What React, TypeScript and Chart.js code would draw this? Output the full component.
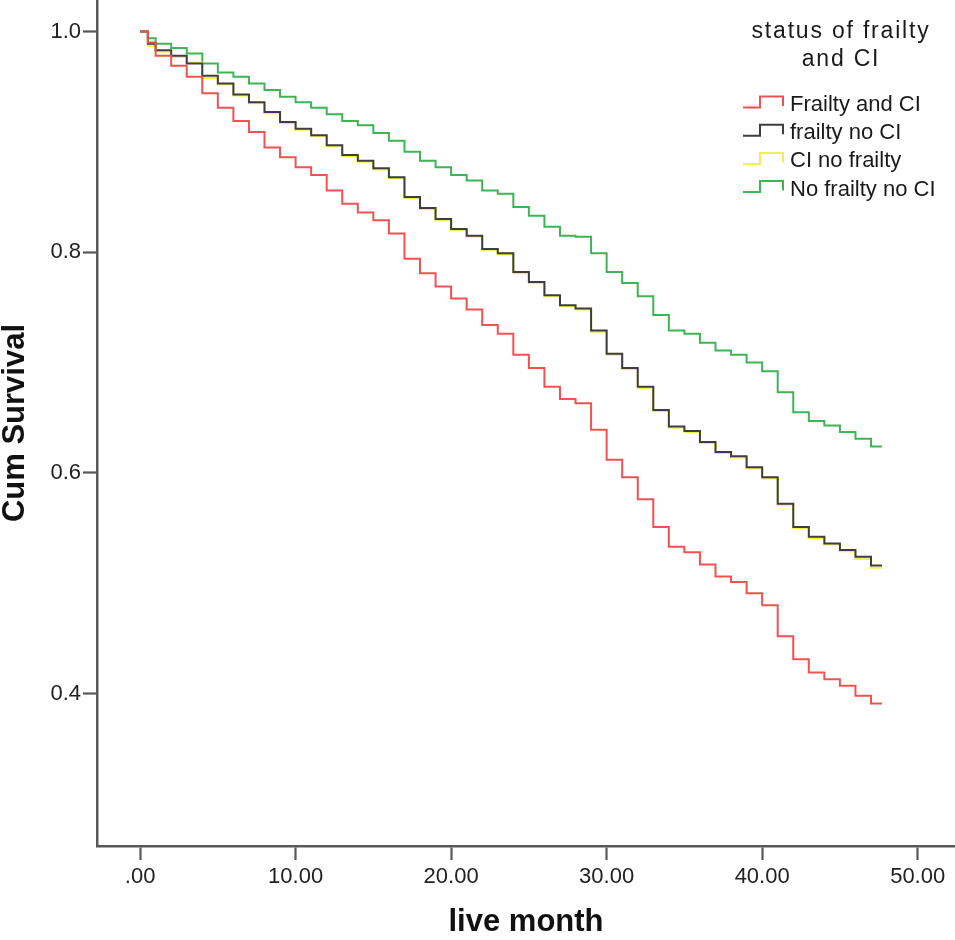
import { useEffect, useRef } from "react";
import { Chart, registerables } from "chart.js";

Chart.register(...registerables);

// months at which the survival estimate changes (last value = end of follow-up)
const months = [
  0, 0.5, 1, 2, 3, 4, 5, 6, 7, 8, 9, 10, 11, 12, 13, 14, 15, 16, 17, 18, 19,
  20, 21, 22, 23, 24, 25, 26, 27, 28, 29, 30, 31, 32, 33, 34, 35, 36, 37, 38,
  39, 40, 41, 42, 43, 44, 45, 46, 47, 47.7,
];

const frailtyAndCI = [
  1.0, 0.99, 0.978, 0.969, 0.959, 0.944, 0.931, 0.919, 0.909, 0.895, 0.886,
  0.877, 0.87, 0.856, 0.844, 0.836, 0.829, 0.817, 0.794, 0.781, 0.769, 0.758,
  0.748, 0.734, 0.726, 0.707, 0.695, 0.678, 0.667, 0.663, 0.639, 0.612, 0.596,
  0.576, 0.551, 0.533, 0.528, 0.517, 0.506, 0.501, 0.491, 0.48, 0.452, 0.431,
  0.419, 0.413, 0.407, 0.398, 0.391, 0.391,
];

const frailtyNoCI = [
  1.0, 0.989, 0.983, 0.978, 0.971, 0.96, 0.953, 0.943, 0.936, 0.927, 0.918,
  0.912, 0.906, 0.897, 0.888, 0.883, 0.876, 0.868, 0.85, 0.84, 0.83, 0.821,
  0.815, 0.803, 0.799, 0.782, 0.773, 0.761, 0.752, 0.749, 0.729, 0.708, 0.695,
  0.678, 0.657, 0.642, 0.638, 0.628, 0.619, 0.615, 0.605, 0.596, 0.572, 0.551,
  0.542, 0.536, 0.53, 0.524, 0.516, 0.516,
];

const ciNoFrailty = [
  1.0, 0.987, 0.982, 0.977, 0.972, 0.958, 0.952, 0.942, 0.935, 0.926, 0.917,
  0.911, 0.905, 0.896, 0.887, 0.882, 0.875, 0.867, 0.849, 0.839, 0.829, 0.82,
  0.814, 0.802, 0.798, 0.781, 0.772, 0.76, 0.751, 0.748, 0.728, 0.707, 0.694,
  0.677, 0.656, 0.641, 0.637, 0.627, 0.618, 0.614, 0.604, 0.595, 0.571, 0.55,
  0.541, 0.535, 0.529, 0.522, 0.514, 0.514,
];

const noFrailtyNoCI = [
  1.0, 0.994, 0.989, 0.985, 0.98, 0.971, 0.963, 0.959, 0.953, 0.947, 0.941,
  0.936, 0.931, 0.925, 0.919, 0.915, 0.908, 0.901, 0.891, 0.883, 0.877, 0.87,
  0.865, 0.856, 0.853, 0.841, 0.833, 0.823, 0.815, 0.814, 0.799, 0.782, 0.772,
  0.76, 0.743, 0.729, 0.726, 0.718, 0.711, 0.707, 0.7, 0.692, 0.673, 0.655,
  0.647, 0.643, 0.637, 0.631, 0.624, 0.624,
];

const groupLabels = ["Frailty and CI", "frailty no CI", "CI no frailty", "No frailty no CI"];
const groupColors = ["rgb(240,82,82)", "rgb(62,62,62)", "rgb(240,240,85)", "rgb(62,180,85)"];
const groupValues = [frailtyAndCI, frailtyNoCI, ciNoFrailty, noFrailtyNoCI];

const xTicks = [0, 10, 20, 30, 40, 50];
const yTicks = [0.4, 0.6, 0.8, 1.0];
const legendTitle = ["status of frailty", "and CI"];

const FONT = '"Liberation Sans", Arial, Helvetica, sans-serif';
const AXIS = "#585858";

const legendPlugin = {
  id: "kmLegend",
  afterDraw(chart) {
    const ctx = chart.ctx;
    ctx.save();
    ctx.fillStyle = "#1a1a1a";
    ctx.textBaseline = "alphabetic";
    ctx.textAlign = "center";
    ctx.font = `23px ${FONT}`;
    ctx.letterSpacing = "1.8px";
    legendTitle.forEach((line, i) => ctx.fillText(line, 841, 38 + i * 27.5));
    ctx.letterSpacing = "0px";
    ctx.textAlign = "left";
    ctx.font = `22px ${FONT}`;
    chart.data.datasets.forEach((ds, i) => {
      const base = 111 + i * 28.2;
      ctx.strokeStyle = ds.borderColor;
      ctx.lineWidth = 2;
      ctx.beginPath();
      ctx.moveTo(743, base - 3.5);
      ctx.lineTo(760, base - 3.5);
      ctx.lineTo(760, base - 14.5);
      ctx.lineTo(783, base - 14.5);
      ctx.lineTo(783, base - 5);
      ctx.stroke();
      ctx.fillText(ds.label, 790, base);
    });
    ctx.restore();
  },
};

function App() {
  const canvasRef = useRef(null);

  useEffect(() => {
    const chart = new Chart(canvasRef.current, {
      type: "line",
      data: {
        datasets: groupLabels.map((label, i) => ({
          label,
          data: months.map((m, j) => ({ x: m, y: groupValues[i][j] })),
          borderColor: groupColors[i],
          borderWidth: 2,
          borderJoinStyle: "miter",
          stepped: true,
          pointRadius: 0,
          fill: false,
        })),
      },
      options: {
        animation: false,
        responsive: true,
        maintainAspectRatio: false,
        layout: { padding: 0 },
        plugins: {
          legend: { display: false },
          tooltip: { enabled: false },
        },
        scales: {
          x: {
            type: "linear",
            min: -2.77,
            max: 52.4,
            afterBuildTicks: (scale) => {
              scale.ticks = xTicks.map((v) => ({ value: v }));
            },
            afterFit: (scale) => {
              scale.height = 94;
              scale.paddingLeft = 0;
              scale.paddingRight = 0;
            },
            ticks: {
              padding: 4,
              color: "#222",
              font: { family: FONT, size: 22 },
              callback: (v) => (v === 0 ? ".00" : Number(v).toFixed(2)),
            },
            grid: {
              drawOnChartArea: false,
              drawTicks: true,
              tickLength: 14,
              tickWidth: 2.2,
              tickColor: AXIS,
            },
            border: { display: true, color: AXIS, width: 2.5 },
            title: {
              display: true,
              text: "live month",
              color: "#111",
              font: { family: FONT, size: 31, weight: "bold", lineHeight: 1 },
              padding: { top: 0, bottom: 2 },
            },
          },
          y: {
            type: "linear",
            min: 0.2618,
            max: 1.0286,
            afterBuildTicks: (scale) => {
              scale.ticks = yTicks.map((v) => ({ value: v }));
            },
            afterFit: (scale) => {
              scale.width = 97;
              scale.paddingTop = 0;
              scale.paddingBottom = 0;
            },
            ticks: {
              padding: 2,
              color: "#222",
              font: { family: FONT, size: 22 },
              callback: (v) => Number(v).toFixed(1),
            },
            grid: {
              drawOnChartArea: false,
              drawTicks: true,
              tickLength: 14,
              tickWidth: 2.2,
              tickColor: AXIS,
            },
            border: { display: true, color: AXIS, width: 2.5 },
            title: {
              display: true,
              text: "Cum Survival",
              color: "#111",
              font: { family: FONT, size: 31, weight: "bold", lineHeight: 1 },
              padding: { top: 0, bottom: 0 },
            },
          },
        },
      },
      plugins: [legendPlugin],
    });

    return () => {
      chart.destroy();
    };
  }, []);

  return (
    <div
      style={{
        position: "fixed",
        left: 0,
        top: 0,
        width: 955,
        height: 940,
        background: "#fff",
      }}
    >
      <canvas ref={canvasRef}></canvas>
    </div>
  );
}

export default App;
